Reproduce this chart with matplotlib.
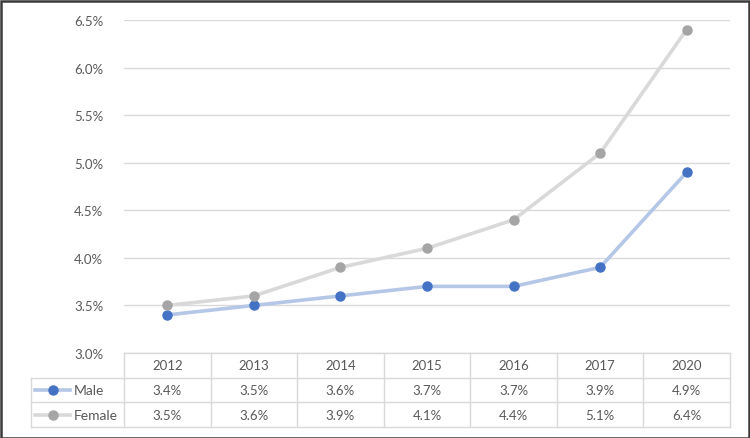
import matplotlib.pyplot as plt
from matplotlib.lines import Line2D
from matplotlib.patches import Rectangle
from matplotlib.ticker import FuncFormatter

years = ['2012', '2013', '2014', '2015', '2016', '2017', '2020']
male = [3.4, 3.5, 3.6, 3.7, 3.7, 3.9, 4.9]
female = [3.5, 3.6, 3.9, 4.1, 4.4, 5.1, 6.4]
y_ticks = [3.0, 3.5, 4.0, 4.5, 5.0, 5.5, 6.0, 6.5]

plt.rcParams['font.family'] = ['Lato', 'DejaVu Sans']
txt = '#595959'
grid = '#D9D9D9'
series = [
    ('Male', male, '#B4C7E7', '#4472C4'),
    ('Female', female, '#D9D9D9', '#A5A5A5'),
]

W, H = 750, 439
fig = plt.figure(figsize=(W / 100, H / 100), dpi=100)

# plot area in pixels
left, right, top, bottom = 124, 730, 21, 354
ax = fig.add_axes([left / W, 1 - bottom / H, (right - left) / W, (bottom - top) / H])
x = list(range(len(years)))
for name, vals, lc, mc in series:
    ax.plot(x, vals, color=lc, lw=2.6, marker='o', ms=6.5,
            mfc=mc, mec=mc, solid_capstyle='round', zorder=3)

ax.set_xlim(-0.5, len(years) - 0.5)
ax.set_ylim(3.0, 6.5)
ax.set_yticks(y_ticks)
ax.yaxis.set_major_formatter(FuncFormatter(lambda v, p: f'{v:.1f}%'))
ax.set_xticks([])
ax.grid(axis='y', color=grid, lw=1)
ax.set_axisbelow(True)
for s in ax.spines.values():
    s.set_visible(False)
ax.tick_params(axis='y', length=0, pad=15, labelsize=9.5, labelcolor=txt)

# data table under the plot
unit = (right - left) / len(years)
t_left, t_bottom = 31, 428
lab_w = (left - t_left) / unit
tab = fig.add_axes([t_left / W, 1 - t_bottom / H, (right - t_left) / W, (t_bottom - bottom) / H])
x0 = -0.5 - lab_w
tab.set_xlim(x0, len(years) - 0.5)
tab.set_ylim(0, 3)
tab.axis('off')

lk = dict(color=grid, lw=1, clip_on=False)
tab.plot([-0.5, len(years) - 0.5], [3, 3], **lk)
for yy in [0, 1, 2]:
    tab.plot([x0, len(years) - 0.5], [yy, yy], **lk)
tab.plot([x0, x0], [0, 2], **lk)
for i in range(len(years) + 1):
    tab.plot([i - 0.5, i - 0.5], [0, 3], **lk)

for i, yr in enumerate(years):
    tab.text(i, 2.5, yr, ha='center', va='center', fontsize=9.5, color=txt)
for r, (name, vals, lc, mc) in enumerate(series):
    yy = 1.5 - r
    for i, v in enumerate(vals):
        tab.text(i, yy, f'{v:.1f}%', ha='center', va='center', fontsize=9.5, color=txt)
    lx = x0 + 0.05
    tab.add_line(Line2D([lx, lx + 0.4], [yy, yy], color=lc, lw=2.6))
    tab.plot([lx + 0.2], [yy], marker='o', ms=6.5, color=mc)
    tab.text(lx + 0.44, yy, name, ha='left', va='center', fontsize=10, color=txt)

# outer frame
fig.patches.append(Rectangle((0.5 / W, 0.5 / H), 1 - 2 / W, 1 - 2 / H,
                             transform=fig.transFigure, fill=False,
                             edgecolor='#3A3A3A', lw=1.8))

fig.savefig('out.png', dpi=100)
